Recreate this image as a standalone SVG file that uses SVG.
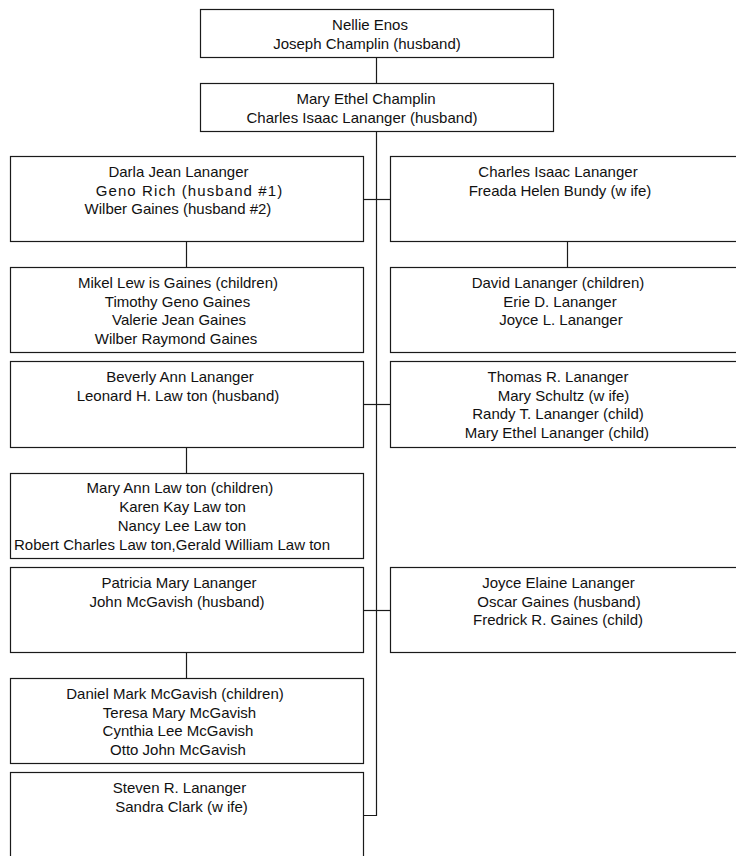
<svg xmlns="http://www.w3.org/2000/svg" width="736" height="856" viewBox="0 0 736 856">
<style>
.box{fill:#fff;stroke:#1a1a1a;stroke-width:1.2}
.conn{stroke:#1a1a1a;stroke-width:1.2;fill:none}
text{font-family:"Liberation Sans",Arial,sans-serif;font-size:15px;fill:#111;text-anchor:middle}
</style>
<rect width="736" height="856" fill="#fff"/>
<g id="connectors">
<line class="conn" x1="376.5" y1="57.5" x2="376.5" y2="83.5"/>
<polyline class="conn" points="376.5,131.5 376.5,815.5 363.5,815.5"/>
<line class="conn" x1="363.5" y1="199.5" x2="390.5" y2="199.5"/>
<line class="conn" x1="186.5" y1="241.5" x2="186.5" y2="267.5"/>
<line class="conn" x1="567.5" y1="241.5" x2="567.5" y2="267.5"/>
<line class="conn" x1="363.5" y1="404.5" x2="390.5" y2="404.5"/>
<line class="conn" x1="186.5" y1="447.5" x2="186.5" y2="473.5"/>
<line class="conn" x1="363.5" y1="610.5" x2="390.5" y2="610.5"/>
<line class="conn" x1="186.5" y1="652.5" x2="186.5" y2="678.5"/>
</g>
<g id="nellie">
<rect class="box" x="200.5" y="9.5" width="353" height="48"/>
<text x="370" y="30">Nellie Enos</text>
<text x="367" y="48.8">Joseph Champlin (husband)</text>
</g>
<g id="mary-ethel">
<rect class="box" x="200.5" y="83.5" width="353" height="48"/>
<text x="366" y="104">Mary Ethel Champlin</text>
<text x="362" y="122.8">Charles Isaac Lananger (husband)</text>
</g>
<g id="darla">
<rect class="box" x="10.5" y="156.5" width="353" height="85"/>
<text x="178.5" y="176.8">Darla Jean Lananger</text>
<text x="189.5" y="195.6" letter-spacing="1.1">Geno Rich (husband #1)</text>
<text x="178" y="214.4">Wilber Gaines (husband #2)</text>
</g>
<g id="darla-children">
<rect class="box" x="10.5" y="267.5" width="353" height="85"/>
<text x="178" y="287.8">Mikel Lew is Gaines (children)</text>
<text x="177.5" y="306.6">Timothy Geno Gaines</text>
<text x="179" y="325.4">Valerie Jean Gaines</text>
<text x="176" y="344.2">Wilber Raymond Gaines</text>
</g>
<g id="charles">
<rect class="box" x="390.5" y="156.5" width="354" height="85"/>
<text x="558" y="176.8">Charles Isaac Lananger</text>
<text x="560" y="195.6">Freada Helen Bundy (w ife)</text>
</g>
<g id="charles-children">
<rect class="box" x="390.5" y="267.5" width="354" height="85"/>
<text x="558" y="287.8">David Lananger (children)</text>
<text x="560" y="306.6">Erie D. Lananger</text>
<text x="561" y="325.4">Joyce L. Lananger</text>
</g>
<g id="beverly">
<rect class="box" x="10.5" y="361.5" width="353" height="86"/>
<text x="180" y="381.8">Beverly Ann Lananger</text>
<text x="178" y="400.6">Leonard H. Law ton (husband)</text>
</g>
<g id="beverly-children">
<rect class="box" x="10.5" y="473.5" width="353" height="85"/>
<text x="180" y="493.3">Mary Ann Law ton (children)</text>
<text x="182.5" y="512.1">Karen Kay Law ton</text>
<text x="182" y="530.9">Nancy Lee Law ton</text>
<text x="172" y="549.7">Robert Charles Law ton,Gerald William Law ton</text>
</g>
<g id="thomas">
<rect class="box" x="390.5" y="361.5" width="354" height="86"/>
<text x="558" y="381.8">Thomas R. Lananger</text>
<text x="563.5" y="400.6">Mary Schultz (w ife)</text>
<text x="558" y="419.4">Randy T. Lananger (child)</text>
<text x="557" y="438.2">Mary Ethel Lananger (child)</text>
</g>
<g id="patricia">
<rect class="box" x="10.5" y="567.5" width="353" height="85"/>
<text x="179" y="587.8">Patricia Mary Lananger</text>
<text x="177" y="606.6">John McGavish (husband)</text>
</g>
<g id="patricia-children">
<rect class="box" x="10.5" y="678.5" width="353" height="85"/>
<text x="175" y="698.8">Daniel Mark McGavish (children)</text>
<text x="179.5" y="717.6">Teresa Mary McGavish</text>
<text x="178" y="736.4">Cynthia Lee McGavish</text>
<text x="178" y="755.2">Otto John McGavish</text>
</g>
<g id="joyce">
<rect class="box" x="390.5" y="567.5" width="354" height="85"/>
<text x="558.5" y="587.8">Joyce Elaine Lananger</text>
<text x="559" y="606.6">Oscar Gaines (husband)</text>
<text x="558" y="625.4">Fredrick R. Gaines (child)</text>
</g>
<g id="steven">
<rect class="box" x="10.5" y="772.5" width="353" height="86"/>
<text x="179.5" y="792.8">Steven R. Lananger</text>
<text x="181.5" y="811.6">Sandra Clark (w ife)</text>
</g>
</svg>
